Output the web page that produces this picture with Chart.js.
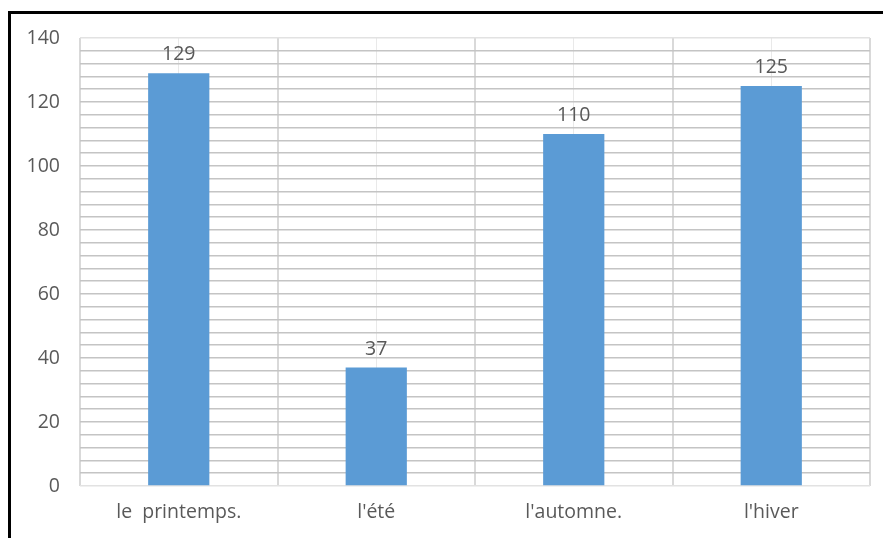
<!DOCTYPE html>
<html>
<head>
<meta charset="utf-8">
<script src="https://cdn.jsdelivr.net/npm/chart.js@4/dist/chart.umd.min.js"></script>
<style>
  html, body { margin: 0; padding: 0; background: #fff; overflow: hidden; }
  #frame {
    position: absolute; left: 8px; top: 11px; width: 1000px; height: 1000px;
    border-left: 3px solid #000; border-top: 3px solid #000; box-sizing: border-box;
  }
  #wrap { position: absolute; left: 0; top: 0; width: 883px; height: 538px; }
</style>
</head>
<body>
<div id="frame"></div>
<div id="wrap"><canvas id="c" width="883" height="538"></canvas></div>
<script>
// Seasons and their counts
const seasons = ["le  printemps.", "l'été", "l'automne.", "l'hiver"];
const counts = [129, 37, 110, 125];
const yTickLabels = [0, 20, 40, 60, 80, 100, 120, 140];

const textColor = '#595959';
const fontSpec = { family: "'Open Sans', sans-serif", size: 19.5 };

// Writes each bar's value above it
const valueLabels = {
  id: 'valueLabels',
  afterDatasetsDraw(chart) {
    const ctx = chart.ctx;
    const meta = chart.getDatasetMeta(0);
    ctx.save();
    ctx.font = `${fontSpec.size}px ${fontSpec.family}`;
    ctx.fillStyle = textColor;
    ctx.textAlign = 'center';
    ctx.textBaseline = 'alphabetic';
    meta.data.forEach((bar, i) => {
      ctx.fillText(String(counts[i]), bar.x, bar.y - 13);
    });
    ctx.restore();
  }
};

new Chart(document.getElementById('c'), {
  type: 'bar',
  data: {
    labels: seasons,
    datasets: [{
      data: counts,
      backgroundColor: '#5B9BD5',
      categoryPercentage: 1,
      barPercentage: 0.31,
      xAxisID: 'x'
    }]
  },
  options: {
    responsive: false,
    animation: false,
    events: [],
    layout: { padding: { left: 0, right: 13, top: 38, bottom: 0 } },
    plugins: { legend: { display: false }, tooltip: { enabled: false } },
    scales: {
      x: {
        position: 'bottom',
        offset: true,
        grid: { offset: true, color: '#d9d9d9', lineWidth: 2, drawTicks: false },
        border: { display: false },
        ticks: { color: textColor, font: fontSpec, padding: 15, maxRotation: 0 },
        afterFit(s) { s.height = 52; }
      },
      // category centre lines
      x2: {
        position: 'bottom',
        type: 'category',
        labels: seasons,
        offset: true,
        grid: { offset: false, color: '#e9e9e9', lineWidth: 1, drawTicks: false },
        border: { display: false },
        ticks: { display: false },
        afterFit(s) { s.height = 0; }
      },
      y: {
        min: 0,
        max: 140,
        ticks: {
          stepSize: 4,
          autoSkip: false,
          color: textColor,
          font: fontSpec,
          padding: 20,
          callback: (v) => (yTickLabels.includes(v) ? String(v) : '')
        },
        grid: {
          drawTicks: false,
          lineWidth: 1.6,
          color: (c) => (c.tick && (c.tick.value === 0 || c.tick.value === 140) ? '#e2e2e2' : '#c4c4c4')
        },
        border: { display: false },
        afterFit(s) { s.width = 80; }
      }
    }
  },
  plugins: [valueLabels]
});
</script>
</body>
</html>
